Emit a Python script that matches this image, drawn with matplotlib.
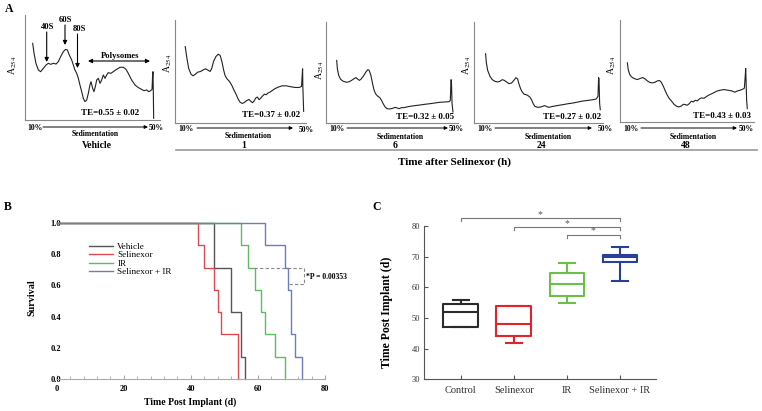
import numpy as np
import matplotlib
matplotlib.use('Agg')
import matplotlib.pyplot as plt
from matplotlib.patches import FancyArrowPatch
from matplotlib.lines import Line2D
from matplotlib.ticker import MultipleLocator, FormatStrFormatter

plt.rcParams['font.family'] = ['Liberation Serif', 'DejaVu Serif']
plt.rcParams['mathtext.fontset'] = 'stix'

W, H = 762, 411

# ---------------- Panel A data: polysome profiles (arbitrary units, 0-100) ----------------
profile_titles = ['Vehicle', '1', '6', '24', '48']
te_labels = ['TE=0.55 ± 0.02', 'TE=0.37 ± 0.02', 'TE=0.32 ± 0.05',
             'TE=0.27 ± 0.02', 'TE=0.43 ± 0.03']

profile_vehicle = [
    (5.7, 73.0), (6.7, 63.5), (8.1, 54.0), (9.9, 47.6), (11.6, 46.0), (13.6, 49.2),
    (15.6, 52.4), (17.3, 54.0), (19.0, 53.0), (21.0, 54.0), (23.0, 53.3), (24.7, 55.6),
    (26.4, 60.3), (28.4, 65.1), (30.1, 67.3), (31.4, 66.7), (32.8, 61.9), (34.6, 57.1),
    (35.8, 52.4), (37.0, 47.6), (38.3, 44.4), (39.5, 39.7), (40.7, 33.3), (42.0, 27.0),
    (43.2, 20.6), (44.4, 17.5), (45.7, 19.0), (46.9, 25.4), (48.1, 33.3), (48.9, 36.5),
    (50.1, 30.2), (51.1, 27.0), (52.1, 31.7), (53.1, 38.1), (54.3, 39.7), (55.6, 34.9),
    (56.8, 38.1), (58.0, 42.9), (59.3, 39.7), (60.5, 42.9), (61.7, 45.1), (63.5, 44.4),
    (65.4, 46.0), (67.9, 48.3), (70.4, 50.2), (72.8, 50.2), (74.8, 48.3), (76.5, 44.4),
    (79.0, 38.1), (81.5, 33.3), (84.0, 30.8), (86.4, 29.2), (88.1, 27.9), (90.1, 28.6),
    (91.6, 27.0), (93.1, 27.9), (94.1, 29.2), (94.6, 44.4), (94.8, 46.0), (95.1, 22.2),
    (95.3, 1.6)]

profile_1h = [
    (7.8, 74.2), (9.1, 62.9), (10.4, 53.2), (12.2, 47.4), (13.8, 45.8), (15.6, 47.4),
    (17.4, 49.4), (19.5, 50.0), (21.6, 51.6), (23.4, 52.6), (25.2, 51.3), (26.8, 50.0),
    (28.1, 53.2), (29.4, 59.7), (31.2, 64.5), (33.0, 66.8), (34.5, 65.5), (35.8, 59.7),
    (37.1, 51.6), (38.2, 46.1), (39.7, 42.9), (41.6, 40.3), (43.4, 36.5), (44.9, 32.3),
    (46.8, 27.4), (48.1, 23.5), (49.6, 20.3), (51.2, 19.0), (52.7, 19.7), (54.5, 21.6),
    (56.4, 22.9), (57.9, 21.0), (59.2, 19.7), (60.5, 21.6), (61.6, 24.2), (62.9, 25.2),
    (64.2, 22.6), (65.5, 24.2), (66.8, 26.1), (68.3, 28.1), (69.6, 27.4), (70.9, 29.0),
    (72.5, 30.0), (74.0, 31.3), (76.1, 33.2), (78.7, 34.8), (81.8, 36.1), (84.9, 36.1),
    (88.3, 35.2), (91.7, 34.5), (94.8, 34.5), (96.6, 35.5), (97.1, 46.8), (97.4, 52.6),
    (97.6, 35.5), (98.2, 11.3)]

profile_6h = [
    (8.1, 62.0), (8.6, 53.8), (9.6, 47.2), (11.1, 43.2), (13.1, 41.3), (15.6, 40.3),
    (17.6, 40.9), (19.4, 42.2), (21.2, 43.9), (22.7, 44.9), (23.9, 43.6), (25.2, 42.2),
    (26.4, 43.2), (28.2, 46.2), (30.2, 50.5), (31.7, 52.8), (32.7, 52.1), (34.0, 47.2),
    (35.3, 38.9), (36.3, 33.0), (37.5, 29.0), (39.0, 26.7), (40.8, 25.1), (42.1, 22.4),
    (43.3, 19.1), (44.8, 15.8), (46.3, 14.2), (48.4, 13.9), (50.4, 14.5), (52.4, 15.5),
    (53.9, 14.9), (55.4, 14.2), (57.2, 15.2), (58.9, 15.2), (61.0, 15.8), (63.5, 16.5),
    (67.3, 17.2), (71.0, 17.8), (74.8, 18.5), (78.6, 19.1), (82.4, 19.8), (86.1, 20.5),
    (89.9, 20.8), (93.2, 21.1), (94.2, 22.4), (94.7, 42.9), (95.0, 42.2), (95.5, 19.1),
    (96.2, 10.9)]

profile_24h = [
    (9.0, 68.6), (9.5, 60.4), (10.6, 52.1), (12.4, 46.2), (14.2, 42.9), (16.2, 41.3),
    (18.3, 40.6), (20.1, 41.3), (21.9, 42.9), (23.5, 42.2), (25.3, 40.6), (27.1, 38.9),
    (29.1, 39.6), (30.9, 42.2), (32.5, 44.9), (33.8, 43.6), (34.8, 38.9), (36.1, 34.0),
    (37.4, 30.7), (38.9, 28.4), (40.2, 28.1), (41.5, 27.4), (43.3, 25.7), (44.6, 23.1),
    (45.9, 19.1), (47.2, 16.5), (49.2, 15.5), (51.5, 15.8), (53.1, 16.5), (54.9, 17.2),
    (56.4, 16.2), (58.0, 15.5), (60.1, 16.2), (62.6, 16.8), (65.7, 17.5), (69.1, 18.2),
    (72.9, 19.1), (76.8, 19.8), (80.7, 20.8), (84.5, 21.8), (88.4, 22.4), (92.3, 23.1),
    (94.8, 23.8), (96.1, 26.4), (96.6, 44.9), (96.9, 43.6), (97.4, 19.1), (97.9, 13.2)]

profile_48h = [
    (5.5, 58.0), (6.2, 50.8), (7.5, 45.9), (9.2, 43.6), (11.2, 42.3), (12.9, 41.6),
    (14.9, 42.6), (16.9, 43.6), (18.7, 42.3), (20.4, 40.3), (22.4, 38.7), (24.4, 38.4),
    (26.1, 39.0), (27.9, 40.3), (29.4, 40.7), (30.8, 39.0), (32.3, 35.1), (33.8, 30.5),
    (35.3, 26.2), (36.8, 23.0), (38.6, 20.3), (40.3, 17.4), (42.3, 15.4), (44.0, 14.8),
    (45.8, 15.7), (47.3, 17.4), (48.8, 17.0), (50.2, 16.4), (51.7, 18.0), (53.2, 20.3),
    (54.7, 19.7), (56.2, 21.3), (57.7, 20.7), (59.2, 22.6), (60.9, 23.6), (62.7, 23.3),
    (64.2, 24.6), (65.9, 26.2), (67.7, 27.2), (69.7, 28.5), (72.1, 30.2), (74.6, 31.1),
    (77.6, 31.8), (80.8, 31.1), (83.3, 30.5), (85.8, 29.2), (87.6, 30.5), (89.6, 31.1),
    (91.5, 32.1), (92.8, 33.1), (93.5, 45.9), (93.8, 52.5), (94.0, 44.3), (94.5, 21.3),
    (95.0, 13.1)]

profiles = [profile_vehicle, profile_1h, profile_6h, profile_24h, profile_48h]

# ---------------- Panel B data: survival (days of death per mouse) ----------------
surv_groups = ['Vehicle', 'Selinexor', 'IR', 'Selinexor + IR']
days_vehicle = [47, 47, 52, 52, 55, 55, 56]
days_selinexor = [42, 44, 47, 48, 49, 54, 54]
days_ir = [55, 57, 59, 61, 62, 65, 68]
days_combo = [62, 68, 69, 70, 70, 71, 73]
surv_days = [days_vehicle, days_selinexor, days_ir, days_combo]
p_label = '*P = 0.00353'

# ---------------- Panel C data: box plot stats ----------------
box_labels = ['Control', 'Selinexor', 'IR', 'Selinexor + IR']
box_whislo = [47, 42, 55, 62]
box_q1 = [47, 44, 57.2, 68.2]
box_med = [52, 48, 61, 70]
box_q3 = [54.7, 53.8, 64.8, 70.7]
box_whishi = [56, 53.8, 68, 73]
sig_pairs = [(1, 4), (2, 4), (3, 4)]

# ---------------- helpers ----------------
fig = plt.figure(figsize=(W / 100, H / 100), dpi=100)
fig.patch.set_facecolor('white')


def axes_px(l, t, r, b):
    return fig.add_axes([l / W, 1 - b / H, (r - l) / W, (b - t) / H])


def fx(x):
    return x / W


def fy(y):
    return 1 - y / H


def ftext(x, y, s, **kw):
    kw.setdefault('ha', 'center')
    kw.setdefault('va', 'center')
    fig.text(fx(x), fy(y), s, **kw)


def farrow(x0, y0, x1, y1, style='-|>', ms=6, lw=0.8, color='black'):
    fig.add_artist(FancyArrowPatch((fx(x0), fy(y0)), (fx(x1), fy(y1)),
                                   transform=fig.transFigure, arrowstyle=style,
                                   mutation_scale=ms, lw=lw, color=color,
                                   shrinkA=0, shrinkB=0))


def fline(xs, ys, **kw):
    fig.add_artist(Line2D([fx(v) for v in xs], [fy(v) for v in ys],
                          transform=fig.transFigure, **kw))


# ---------------- Panel A ----------------
prof_boxes = [(25, 15, 160, 120), (175, 20, 306, 123), (326, 22, 458, 123),
              (474, 22, 603, 123), (620, 20, 754, 122)]
a254_pos = [(13, 65), (168, 63), (320, 70), (467, 65), (612, 65)]
te_pos = [(110, 113), (271, 115), (425, 117), (572, 117), (722, 116)]
pct10_pos = [(34.5, 128), (186, 129), (337, 129), (485, 129), (631, 129)]
pct50_pos = [(156, 128), (306, 130), (456, 129), (605, 129), (746, 129)]
arrow_span = [(43, 148, 127), (197, 293, 128), (347, 448, 128), (495, 592, 128), (641, 737, 128)]
sed_pos = [(95, 134), (248, 136), (400, 137), (548, 137), (693, 137)]
title_pos = [(97, 145), (244, 145), (395, 146), (541, 146), (686, 146)]

for i, prof in enumerate(profiles):
    ax = axes_px(*prof_boxes[i])
    xs = [p[0] for p in prof]
    ys = [p[1] for p in prof]
    ax.plot(xs, ys, color='#222222', lw=0.8)
    ax.set_xlim(0, 100)
    ax.set_ylim(0, 100)
    for s in ['top', 'right']:
        ax.spines[s].set_visible(False)
    for s in ['left', 'bottom']:
        ax.spines[s].set_color('#888888')
        ax.spines[s].set_linewidth(0.8)
    ax.set_xticks([])
    ax.set_yticks([])
    ax.patch.set_alpha(0)
    ftext(*a254_pos[i], r'A$_{254}$', fontsize=7, rotation=90)
    ftext(*te_pos[i], te_labels[i], fontsize=6.5, fontweight='bold')
    ftext(*pct10_pos[i], '10%', fontsize=5.5, fontweight='bold')
    ftext(*pct50_pos[i], '50%', fontsize=5.5, fontweight='bold')
    x0, x1, ya = arrow_span[i]
    farrow(x0, ya, x1, ya, ms=5, lw=0.7)
    ftext(*sed_pos[i], 'Sedimentation', fontsize=5.5, fontweight='bold')
    ftext(*title_pos[i], profile_titles[i], fontsize=7, fontweight='bold')

# ribosome annotations on vehicle profile
ftext(47.5, 27, '40S', fontsize=6.2, fontweight='bold')
farrow(46.7, 32, 46.7, 62)
ftext(65.5, 20, '60S', fontsize=6.2, fontweight='bold')
farrow(65, 25, 65, 45)
ftext(79.5, 29, '80S', fontsize=6.2, fontweight='bold')
farrow(77.5, 34, 77.5, 68)
ftext(120, 56.5, 'Polysomes', fontsize=6.2, fontweight='bold')
farrow(88, 61, 150, 61, style='<|-|>')

fline([176, 757], [150, 150], color='#999999', lw=1.2)
ftext(454, 162, 'Time after Selinexor (h)', fontsize=8, fontweight='bold')
ftext(9, 9, 'A', fontsize=8.5, fontweight='bold')

# ---------------- Panel B ----------------
surv_colors = ['#555555', '#dc4a52', '#5dbd5d', '#6b7cc0']
axB = axes_px(56.7, 223, 325, 379)
for name, days, col in zip(surv_groups, surv_days, surv_colors):
    t, c = np.unique(days, return_counts=True)
    surv = 1 - np.cumsum(c) / len(days)
    xs = np.concatenate([[0], t])
    ys = np.concatenate([[1.0], surv])
    axB.step(xs, ys, where='post', color=col, lw=1.0, label=name, clip_on=False)

axB.set_xlim(0, 80)
axB.set_ylim(0, 1.0)
axB.set_xticks([0, 20, 40, 60, 80])
axB.xaxis.set_minor_locator(MultipleLocator(4))
axB.set_yticks([0, 0.2, 0.4, 0.6, 0.8, 1.0])
axB.yaxis.set_major_formatter(FormatStrFormatter('%.1f'))
for s in ['top', 'right', 'left']:
    axB.spines[s].set_visible(False)
axB.spines['bottom'].set_color('#aaaaaa')
axB.tick_params(axis='x', which='both', direction='in', colors='#aaaaaa',
                labelcolor='black', labelsize=6, pad=4)
axB.tick_params(axis='x', which='major', length=3)
axB.tick_params(axis='x', which='minor', length=2)
axB.tick_params(axis='y', length=0, labelsize=6, pad=-3)
for lab in axB.get_xticklabels() + axB.get_yticklabels():
    lab.set_fontweight('bold')
axB.patch.set_alpha(0)

leg = axB.legend(loc='upper left', bbox_to_anchor=(0.12, 0.875), frameon=False,
                 prop=dict(size=6.6), handlelength=2.6, handletextpad=0.5,
                 labelspacing=0.0, borderpad=0, borderaxespad=0)

pbr_x = [58.8, 73.8, 73.8, 69.4]
pbr_y = [0.709, 0.709, 0.609, 0.609]
axB.plot(pbr_x, pbr_y, ls=(0, (3, 2)), color='#888888', lw=0.8)
axB.text(74.3, 0.657, p_label, fontsize=5.5, fontweight='bold', va='center', ha='left')

ftext(190, 402, 'Time Post Implant (d)', fontsize=7, fontweight='bold')
ftext(32, 298, 'Survival', fontsize=7.3, fontweight='bold', rotation=90)
ftext(8, 207, 'B', fontsize=8.5, fontweight='bold')

# ---------------- Panel C ----------------
box_colors = ['#2b2b2b', '#e3232b', '#6cbf48', '#2a3f98']
axC = axes_px(424, 226, 656, 379.3)
stats = []
for lab, lo, q1, med, q3, hi in zip(box_labels, box_whislo, box_q1, box_med, box_q3, box_whishi):
    stats.append(dict(label=lab, whislo=lo, q1=q1, med=med, q3=q3, whishi=hi, fliers=[]))
bp = axC.bxp(stats, positions=[1, 2, 3, 4], widths=0.65, capwidths=0.3, showfliers=False)
for i, col in enumerate(box_colors):
    bp['boxes'][i].set(color=col, lw=1.5)
    bp['medians'][i].set(color=col, lw=1.5)
    for k in (2 * i, 2 * i + 1):
        bp['whiskers'][k].set(color=col, lw=1.5)
        bp['caps'][k].set(color=col, lw=1.5)

axC.set_xlim(0.31, 4.68)
axC.set_ylim(30, 80)
axC.set_yticks([30, 40, 50, 60, 70, 80])
for s in ['top', 'right']:
    axC.spines[s].set_visible(False)
for s in ['left', 'bottom']:
    axC.spines[s].set_color('#555555')
    axC.spines[s].set_linewidth(0.8)
axC.tick_params(axis='y', direction='in', length=3, colors='#555555',
                labelcolor='#333333', labelsize=6, pad=3)
axC.tick_params(axis='x', direction='in', length=3, colors='#555555',
                labelcolor='#333333', labelsize=7.5, pad=5)
axC.patch.set_alpha(0)

sig_levels = [82.5, 79.6, 77.1]
for (a, b), yl in zip(sig_pairs, sig_levels):
    axC.plot([a, a, b, b], [yl - 0.9, yl, yl, yl - 0.9], color='#777777', lw=0.8, clip_on=False)
    axC.text((a + b) / 2, yl - 0.2, '*', ha='center', va='bottom', fontsize=7,
             color='#555555', clip_on=False)

ftext(387, 312, 'Time Post Implant (d)', fontsize=8.5, fontweight='bold', rotation=90)
ftext(377, 207, 'C', fontsize=8.5, fontweight='bold')

fig.savefig('out.png', dpi=100, facecolor='white')
